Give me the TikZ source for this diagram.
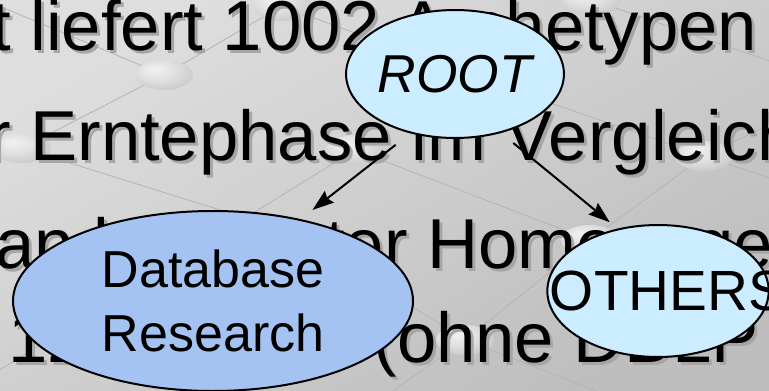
\documentclass[tikz,border=0pt]{standalone}
\usepackage{fontspec}
\setmainfont{Liberation Sans}
\usetikzlibrary{shapes.geometric,arrows.meta}
\definecolor{bgtop}{HTML}{DEDEDE}
\definecolor{bgbot}{HTML}{BEBEBE}
\definecolor{netline}{HTML}{B4B4B4}
\definecolor{txtshadow}{HTML}{A6A6A6}
\definecolor{lightbubble}{HTML}{CCECFF}
\definecolor{darkbubble}{HTML}{A4C2F2}
\pgfdeclareradialshading{knot}{\pgfpoint{-8bp}{10bp}}{rgb(0bp)=(.95,.95,.95); rgb(16bp)=(.88,.88,.88); rgb(34bp)=(.78,.78,.78); rgb(50bp)=(.64,.64,.64); rgb(70bp)=(.64,.64,.64)}

\begin{document}
\begin{tikzpicture}[
x=0.75pt,y=-0.75pt,
bgtext/.style={anchor=base west,inner sep=0pt,font=\fontsize{53}{60}\selectfont},
bubble/.style={ellipse,draw,line width=1.5pt,inner sep=0pt,font=\fontsize{40}{48}\selectfont},
link/.style={line width=1.5pt,-{Stealth[length=16pt,width=11pt,inset=2pt]}}
]
\useasboundingbox (0,0) rectangle (769,390);
\clip (0,0) rectangle (769,390);
\shade[top color=bgtop,bottom color=bgbot,shading angle=30] (0,0) rectangle (769,390);

\foreach \n/\x/\y in {b1/164/75,b2/282/6,b3/22/148,b4/355/150,b5/592/0,b6/704/156,b7/590/240,b8/465/340,h1/455/70,h2/300/235,e1/-20/-2,e2/-20/382,e3/790/68,e4/790/185,e5/790/115,e6/620/400,e7/380/400}
  \coordinate (\n) at (\x,\y);
\draw[netline,line width=0.6pt] (e1) -- (b1) -- (b2) -- (h1) -- (b6) -- (e4)
  (b1) -- (b3) -- (h2) -- (b8) -- (e6) (b5) -- (e3) (b4) -- (b7) -- (b6) -- (e5)
  (b4) -- (e2) (b7) -- (b8) -- (e7);
\foreach \n in {b1,b2,b3,b4,b5,b6,b7,b8,h1,h2}
  \shade[shading=knot] (\n) ellipse [x radius=29,y radius=15];

\foreach \x/\y/\txt [count=\i] in {-9/50/t liefert 1002 Archetypen,-13/160/r Erntephase im Vergleich,-5/268/an bekannter Homepages,8/362/12 Autoren (ohne DBLP} {
  \node[bgtext,txtshadow] (s\i) at (\x+3,\y+3) {\txt};
  \node[bgtext] (t\i) at (\x,\y) {\txt};
}

\node[bubble,fill=lightbubble,minimum width=162pt,minimum height=96pt] (root) at (455,74) {\itshape ROOT};
\node[bubble,fill=darkbubble,minimum width=300pt,minimum height=135pt,align=center,font=\fontsize{39}{48}\selectfont] (db) at (213,301) {\makebox[0pt]{Database}\\\makebox[0pt]{Research}};
\node[bubble,fill=lightbubble,minimum width=166pt,minimum height=99pt,font=\fontsize{42.5}{48}\selectfont] (others) at (658,291) {\makebox[0pt]{\hspace{15pt}OTHERS}};
\draw[link,shorten <=13.9pt,shorten >=11.2pt] (root.233) -- (db.43);
\draw[link,shorten <=11.8pt,shorten >=7.5pt] (root.308) -- (others.123);
\end{tikzpicture}
\end{document}
